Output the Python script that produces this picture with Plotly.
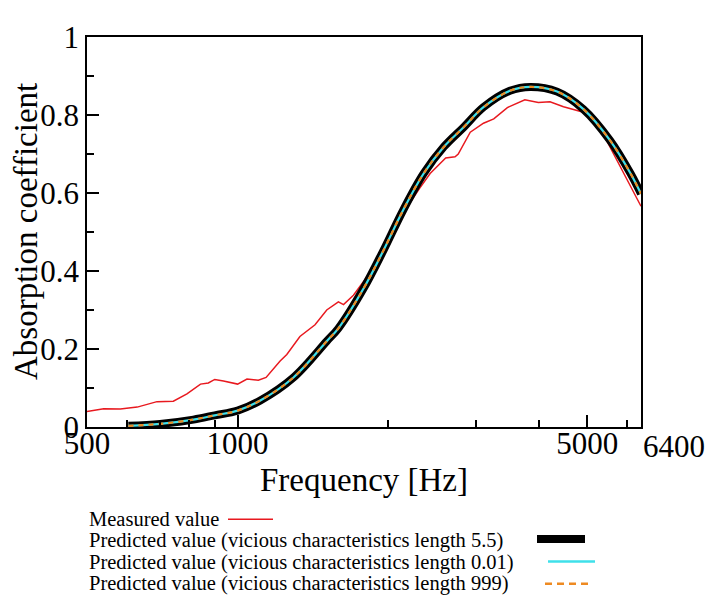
import numpy as np
import plotly.graph_objects as go

# Measured absorption coefficient
meas_freq = [500, 540, 583, 630, 690, 744, 792, 843, 874, 900, 937, 1000, 1044, 1100, 1140,
             1216, 1254, 1332, 1428, 1507, 1590, 1628, 1704, 1850, 2000, 2150, 2310, 2425,
             2605, 2720, 2760, 2917, 3100, 3250, 3460, 3750, 3990, 4210, 4480, 4910, 5230,
             5550, 5900, 6400]
meas_val = [0.040, 0.047, 0.046, 0.051, 0.065, 0.066, 0.085, 0.110, 0.113, 0.122, 0.118, 0.110,
            0.123, 0.120, 0.127, 0.169, 0.186, 0.232, 0.262, 0.300, 0.321, 0.314, 0.338, 0.400,
            0.478, 0.552, 0.612, 0.650, 0.690, 0.693, 0.700, 0.756, 0.779, 0.790, 0.819, 0.839,
            0.832, 0.834, 0.821, 0.807, 0.781, 0.718, 0.655, 0.566]

# Predicted curves (the three characteristic lengths coincide)
pred_freq = [605, 700, 816, 900, 1000, 1110, 1293, 1507, 1590, 1785, 1955, 2144, 2354, 2582,
             2832, 3100, 3500, 3846, 4350, 4910, 5550, 6100, 6400]
pred_len_5_5 = [0.003, 0.008, 0.019, 0.030, 0.042, 0.068, 0.127, 0.220, 0.253, 0.355, 0.452,
                0.557, 0.650, 0.718, 0.769, 0.820, 0.862, 0.872, 0.860, 0.815, 0.735, 0.650, 0.598]
pred_len_0_01 = [0.003, 0.008, 0.019, 0.030, 0.042, 0.068, 0.127, 0.220, 0.253, 0.355, 0.452,
                 0.557, 0.650, 0.718, 0.769, 0.820, 0.862, 0.872, 0.860, 0.815, 0.735, 0.650, 0.598]
pred_len_999 = [0.003, 0.008, 0.019, 0.030, 0.042, 0.068, 0.127, 0.220, 0.253, 0.355, 0.452,
                0.557, 0.650, 0.718, 0.769, 0.820, 0.862, 0.872, 0.860, 0.815, 0.735, 0.650, 0.598]

x_tickvals = [500, 1000, 5000, 6400]
x_ticktext = ["500", "1000", "5000", ""]
x_minor = [600, 700, 800, 900, 2000, 3000, 4000, 6000]
y_tickvals = [0, 0.2, 0.4, 0.6, 0.8, 1]
y_ticktext = ["0", "0.2", "0.4", "0.6", "0.8", "1"]
y_minor = [0.1, 0.3, 0.5, 0.7, 0.9]

legend_names = [
    "Measured value",
    "Predicted value (vicious characteristics length 5.5)",
    "Predicted value (vicious characteristics length 0.01)",
    "Predicted value (vicious characteristics length 999)",
]

# page body adds an 8px offset, so the figure is a bit smaller and shifted
OFF = 8
W, H = 722 - OFF, 607 - OFF
ML, MT = 87 - OFF, 32 - OFF
PW, PH = 554, 395
MR, MB = W - ML - PW, H - MT - PH
FONT = "Liberation Serif"

RED = "#e8191f"
CYAN = "#3fe0ea"
ORANGE = "#ee8a22"


def px(xp):
    # screen pixel -> paper x
    return (xp - OFF - ML) / PW


def py(yp):
    # screen pixel -> paper y
    return (MT + PH - (yp - OFF)) / PH


fig = go.Figure()
fig.add_trace(go.Scatter(x=meas_freq, y=meas_val, mode="lines",
                         line=dict(color=RED, width=1.5), name=legend_names[0]))
fig.add_trace(go.Scatter(x=pred_freq, y=pred_len_5_5, mode="lines",
                         line=dict(color="black", width=8, shape="spline"), name=legend_names[1]))
fig.add_trace(go.Scatter(x=pred_freq, y=pred_len_0_01, mode="lines",
                         line=dict(color=CYAN, width=2.2, shape="spline"), name=legend_names[2]))
fig.add_trace(go.Scatter(x=pred_freq, y=pred_len_999, mode="lines",
                         line=dict(color=ORANGE, width=2.2, dash="5px,5px", shape="spline"),
                         name=legend_names[3]))

axis_common = dict(
    showline=True, linecolor="black", linewidth=1.5, mirror=True,
    showgrid=False, zeroline=False,
    ticks="inside", ticklen=12, tickwidth=1.5, tickcolor="black",
)

fig.update_xaxes(
    type="log", range=[np.log10(500), np.log10(6400)],
    tickmode="array", tickvals=x_tickvals, ticktext=x_ticktext,
    tickfont=dict(family=FONT, size=31, color="black"),
    ticklabelstandoff=-12,
    minor=dict(tickmode="array", tickvals=x_minor, ticks="inside", ticklen=7,
               tickwidth=1.5, tickcolor="black", showgrid=False),
    **axis_common,
)
fig.update_yaxes(
    range=[0, 1],
    tickmode="array", tickvals=y_tickvals, ticktext=y_ticktext,
    tickfont=dict(family=FONT, size=31, color="black"),
    minor=dict(tickmode="array", tickvals=y_minor, ticks="inside", ticklen=7,
               tickwidth=1.5, tickcolor="black", showgrid=False),
    **axis_common,
)

annotations = [
    # 6400 label sits to the right of the last tick
    dict(text="6400", x=1, y=0, xref="paper", yref="paper", xanchor="left", yanchor="top",
         yshift=0, showarrow=False, font=dict(family=FONT, size=31, color="black")),
    dict(text="Frequency [Hz]", x=0.5, y=py(481), xref="paper", yref="paper",
         xanchor="center", yanchor="middle", showarrow=False,
         font=dict(family=FONT, size=33, color="black")),
    dict(text="Absorption coefficient", x=px(26), y=0.5, xref="paper", yref="paper",
         xanchor="center", yanchor="middle", textangle=-90, showarrow=False,
         font=dict(family=FONT, size=33, color="black")),
]

legend_rows = [520.5, 542, 564, 586]
for name, yrow in zip(legend_names, legend_rows):
    annotations.append(dict(text=name, x=px(87), y=py(yrow), xref="paper", yref="paper",
                            xanchor="left", yanchor="middle", showarrow=False,
                            font=dict(family=FONT, size=20.5, color="black")))

shapes = [
    dict(type="line", xref="paper", yref="paper", x0=px(228), x1=px(273),
         y0=py(520.5), y1=py(520.5), line=dict(color=RED, width=1.5)),
    dict(type="line", xref="paper", yref="paper", x0=px(537), x1=px(585),
         y0=py(540.5), y1=py(540.5), line=dict(color="black", width=8)),
    dict(type="line", xref="paper", yref="paper", x0=px(548), x1=px(595),
         y0=py(563.3), y1=py(563.3), line=dict(color=CYAN, width=2.5)),
    dict(type="line", xref="paper", yref="paper", x0=px(545), x1=px(590),
         y0=py(585.7), y1=py(585.7), line=dict(color=ORANGE, width=2.5, dash="7px,5px")),
]

fig.update_layout(
    width=W, height=H,
    margin=dict(l=ML, r=MR, t=MT, b=MB),
    plot_bgcolor="white", paper_bgcolor="white",
    showlegend=False,
    annotations=annotations,
    shapes=shapes,
    font=dict(family=FONT, color="black"),
)

fig.write_html("out.html")
